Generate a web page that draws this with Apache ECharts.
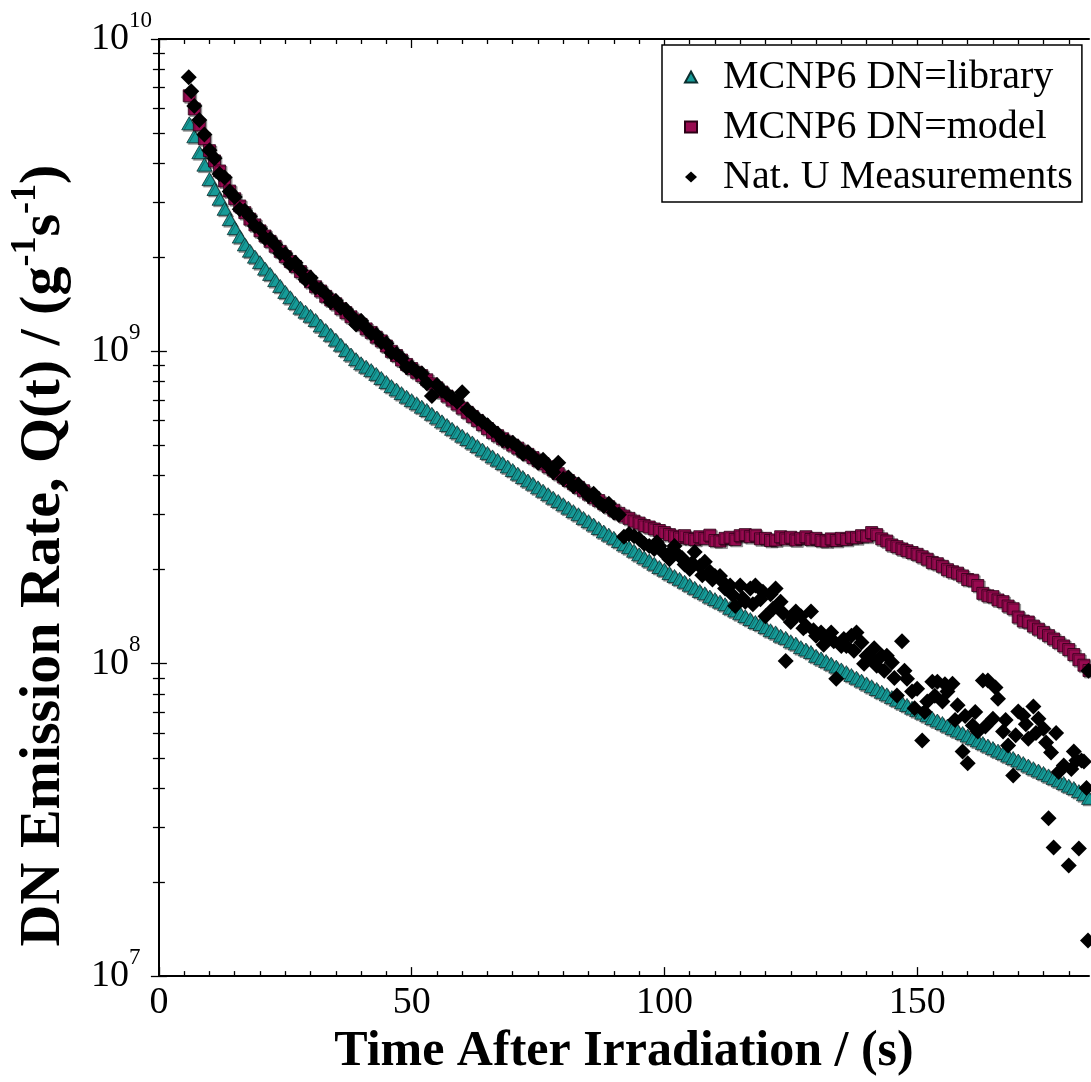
<!DOCTYPE html>
<html>
<head>
<meta charset="utf-8">
<script src="https://cdn.jsdelivr.net/npm/echarts@6/dist/echarts.min.js"></script>
<style>
  html, body { margin: 0; padding: 0; background: #fff; }
  #chart { width: 1091px; height: 1082px; }
</style>
</head>
<body>
<div id="chart"></div>
<script>
// simulated series share one time grid (s)
const simTimes = [6,7,8,9,10,11,12,13,14,15,16,17,18,19,20,21,22,23,24,25,26,27,28,29,30,
  31,32,33,34,35,36,37,38,39,40,41,42,43,44,45,46,47,48,49,50,51,52,53,54,55,56,57,58,59,60,
  61,62,63,64,65,66,67,68,69,70,71,72,73,74,75,76,77,78,79,80,81,82,83,84,85,86,87,88,89,90,
  91,92,93,94,95,96,97,98,99,100,101,102,103,104,105,106,107,108,109,110,111,112,113,114,115,
  116,117,118,119,120,121,122,123,124,125,126,127,128,129,130,131,132,133,134,135,136,137,138,
  139,140,141,142,143,144,145,146,147,148,149,150,151,152,153,154,155,156,157,158,159,160,161,
  162,163,164,165,166,167,168,169,170,171,172,173,174,175,176,177,178,179,180,181,182,183,184];

// MCNP6 DN=library
const libraryValues = [
  5.37e9,4.88e9,4.34e9,3.96e9,3.56e9,3.31e9,3.08e9,2.86e9,2.65e9,2.48e9,
  2.33e9,2.20e9,2.10e9,2.01e9,1.93e9,1.84e9,1.77e9,1.69e9,1.62e9,1.55e9,
  1.49e9,1.43e9,1.38e9,1.34e9,1.30e9,1.26e9,1.21e9,1.17e9,1.13e9,1.09e9,
  1.05e9,1.01e9,9.77e8,9.44e8,9.16e8,8.93e8,8.71e8,8.47e8,8.22e8,7.98e8,
  7.74e8,7.55e8,7.35e8,7.16e8,6.98e8,6.82e8,6.65e8,6.49e8,6.31e8,6.14e8,
  5.97e8,5.81e8,5.65e8,5.51e8,5.37e8,5.24e8,5.11e8,4.98e8,4.85e8,4.73e8,
  4.61e8,4.50e8,4.39e8,4.28e8,4.17e8,4.06e8,3.96e8,3.86e8,3.77e8,3.67e8,
  3.58e8,3.49e8,3.40e8,3.32e8,3.24e8,3.16e8,3.08e8,3.01e8,2.93e8,2.86e8,
  2.79e8,2.72e8,2.65e8,2.59e8,2.53e8,2.47e8,2.41e8,2.36e8,2.30e8,2.24e8,
  2.19e8,2.14e8,2.09e8,2.04e8,2.00e8,1.95e8,1.91e8,1.87e8,1.83e8,1.79e8,
  1.75e8,1.71e8,1.68e8,1.64e8,1.61e8,1.58e8,1.55e8,1.51e8,1.48e8,1.45e8,
  1.42e8,1.39e8,1.36e8,1.34e8,1.31e8,1.28e8,1.26e8,1.23e8,1.21e8,1.18e8,
  1.16e8,1.13e8,1.11e8,1.09e8,1.06e8,1.04e8,1.02e8,1.00e8,9.79e7,9.59e7,
  9.40e7,9.20e7,9.02e7,8.83e7,8.65e7,8.47e7,8.30e7,8.13e7,7.98e7,7.82e7,
  7.67e7,7.52e7,7.38e7,7.23e7,7.10e7,6.97e7,6.84e7,6.70e7,6.58e7,6.46e7,
  6.34e7,6.22e7,6.11e7,6.00e7,5.89e7,5.78e7,5.68e7,5.57e7,5.47e7,5.37e7,
  5.27e7,5.18e7,5.08e7,4.99e7,4.90e7,4.81e7,4.72e7,4.63e7,4.55e7,4.47e7,
  4.39e7,4.31e7,4.23e7,4.15e7,4.07e7,4.00e7,3.91e7,3.82e7,3.72e7];

// MCNP6 DN=model
const modelValues = [
  6.58e9,5.97e9,5.31e9,4.79e9,4.39e9,4.07e9,3.78e9,3.51e9,3.26e9,3.08e9,
  2.92e9,2.78e9,2.65e9,2.54e9,2.43e9,2.34e9,2.25e9,2.17e9,2.09e9,2.01e9,
  1.94e9,1.87e9,1.80e9,1.74e9,1.67e9,1.61e9,1.56e9,1.50e9,1.46e9,1.42e9,
  1.37e9,1.33e9,1.29e9,1.26e9,1.22e9,1.18e9,1.15e9,1.11e9,1.08e9,1.04e9,
  1.00e9,9.70e8,9.38e8,9.08e8,8.81e8,8.57e8,8.36e8,8.11e8,7.87e8,7.64e8,
  7.41e8,7.19e8,6.98e8,6.78e8,6.58e8,6.38e8,6.19e8,6.01e8,5.83e8,5.66e8,
  5.50e8,5.37e8,5.25e8,5.13e8,5.01e8,4.90e8,4.79e8,4.68e8,4.57e8,4.47e8,
  4.37e8,4.27e8,4.17e8,4.06e8,3.96e8,3.86e8,3.77e8,3.67e8,3.58e8,3.49e8,
  3.40e8,3.33e8,3.25e8,3.18e8,3.10e8,3.03e8,2.97e8,2.92e8,2.86e8,2.82e8,
  2.77e8,2.74e8,2.70e8,2.67e8,2.63e8,2.59e8,2.56e8,2.53e8,2.57e8,2.52e8,
  2.50e8,2.55e8,2.52e8,2.58e8,2.48e8,2.47e8,2.52e8,2.54e8,2.50e8,2.57e8,
  2.59e8,2.55e8,2.58e8,2.51e8,2.52e8,2.48e8,2.49e8,2.55e8,2.51e8,2.54e8,
  2.49e8,2.52e8,2.55e8,2.50e8,2.52e8,2.48e8,2.47e8,2.51e8,2.48e8,2.52e8,
  2.50e8,2.54e8,2.53e8,2.57e8,2.56e8,2.63e8,2.59e8,2.51e8,2.47e8,2.40e8,
  2.37e8,2.33e8,2.30e8,2.27e8,2.24e8,2.20e8,2.16e8,2.11e8,2.09e8,2.05e8,
  2.00e8,1.97e8,1.95e8,1.91e8,1.86e8,1.85e8,1.78e8,1.68e8,1.65e8,1.64e8,
  1.60e8,1.58e8,1.53e8,1.50e8,1.41e8,1.37e8,1.36e8,1.32e8,1.29e8,1.26e8,
  1.23e8,1.20e8,1.17e8,1.14e8,1.11e8,1.07e8,1.03e8,9.89e7,9.51e7];

// Nat. U measurements
const measTimes = [5.9,6.4,7,8,9,10,11,12,13,14,15,16,17,18,19,20,21,22,23,24,25,26,27,28,29,30,
  31,32,33,34,35,36,37,38,39,40,41,42,43,44,45,46,47,48,49,50,51,52,53,54,55,56,57,58,59,60,
  61,62,63,64,65,66,67,68,69,70,71,72,73,74,75,76,77,78,79,80,81,82,83,84,85,86,87,88,89,90,91,
  92,93,94,95,96,97,98,98.5,99,100,101,101.5,102,103,103.5,104,105,105.5,106,107,107.5,108,109,109.5,
  110,111,111.5,112,113,113.5,114,115,115.5,116,117,117.5,118,119,119.5,120,121,121.5,122,123,123.5,
  124,125,125.5,126,127,127.5,128,129,129.5,130,131,131.5,132,133,133.5,134,135,135.5,136,137,137.5,
  138,139,139.5,140,141,141.5,142,143,143.5,144,145,145.5,146,147,147.5,148,149,149.5,150,151,151.5,
  152,153,153.5,154,155,155.5,156,157,157.5,158,159,159.5,160,161,161.5,162,163,163.5,164,165,165.5,
  166,167,167.5,168,169,169.5,170,171,171.5,172,173,173.5,174,175,175.5,176,176.5,177,177.5,178,179,
  180,180.5,181,181.5,182,182.5,183,183.5,183.8,183.9];
const measValues = [7.55e9,6.8e9,6.1e9,5.5e9,4.95e9,4.4e9,4.15e9,3.7e9,3.6e9,3.25e9,3.12e9,2.85e9,
  2.82e9,2.7e9,2.52e9,2.47e9,2.3e9,2.29e9,2.2e9,2.06e9,2.05e9,1.9e9,1.92e9,1.82e9,1.7e9,1.72e9,
  1.6e9,1.58e9,1.53e9,1.44e9,1.45e9,1.38e9,1.36e9,1.3e9,1.22e9,1.25e9,1.19e9,1.14e9,1.13e9,1.07e9,
  1.06e9,9.9e8,9.8e8,9.5e8,8.9e8,8.9e8,8.6e8,8.5e8,7.9e8,7.2e8,7.8e8,7.5e8,7.3e8,7.1e8,6.9e8,7.4e8,
  6.5e8,6.3e8,6.1e8,5.95e8,5.8e8,5.6e8,5.45e8,5.2e8,5.15e8,5.1e8,4.95e8,4.7e8,4.75e8,4.6e8,4.4e8,
  4.5e8,4.3e8,4.1e8,4.4e8,3.9e8,3.95e8,3.7e8,3.75e8,3.6e8,3.45e8,3.5e8,3.3e8,3.2e8,3.25e8,3.05e8,3.0e8,
  2.55e8,2.60e8,2.56e8,2.51e8,2.42e8,2.38e8,2.33e8,2.45e8,2.38e8,2.25e8,2.16e8,2.3e8,2.38e8,2.21e8,2.18e8,
  2.08e8,2.01e8,2.1e8,2.28e8,2.05e8,1.92e8,2.12e8,1.97e8,1.86e8,
  1.91e8,1.91e8,1.83e8,1.74e8,1.78e8,1.66e8,1.53e8,1.78e8,1.62e8,1.58e8,1.74e8,1.55e8,1.78e8,1.61e8,1.7e8,
  1.42e8,1.67e8,1.5e8,1.74e8,1.58e8,1.45e8,
  1.02e8,1.36e8,1.4e8,1.47e8,1.42e8,1.3e8,1.32e8,1.47e8,1.28e8,1.23e8,1.26e8,1.15e8,1.20e8,1.26e8,1.18e8,
  8.95e7,1.14e8,1.2e8,1.14e8,1.23e8,1.1e8,
  1.26e8,1.17e8,1.0e8,1.06e8,1.04e8,1.12e8,9.86e7,1.06e8,9.5e7,1.06e8,1.01e8,9.0e7,7.91e7,1.18e8,9.5e7,
  8.95e7,8.15e7,7.2e7,8.32e7,5.68e7,7.0e7,
  7.57e7,8.75e7,7.9e7,8.75e7,7.57e7,8.6e7,8.15e7,8.63e7,6.6e7,7.36e7,5.24e7,6.8e7,4.80e7,6.34e7,7.0e7,
  6.07e7,8.83e7,6.3e7,8.83e7,6.67e7,8.4e7,
  7.73e7,6.07e7,6.6e7,5.47e7,4.39e7,5.9e7,7.03e7,6.83e7,6.4e7,5.75e7,7.30e7,6.0e7,6.67e7,6.19e7,5.6e7,
  3.20e7,5.2e7,2.58e7,6.0e7,4.5e7,4.72e7,
  2.26e7,4.6e7,5.24e7,4.9e7,2.56e7,4.9e7,4.86e7,4.0e7,1.30e7,9.5e7];

// axis ticks
const xMajorTicks = [0, 50, 100, 150];
const xMinorTicks = [5,10,15,20,25,30,35,40,45,55,60,65,70,75,80,85,90,95,105,110,115,120,125,130,
  135,140,145,155,160,165,170,175,180];
const yMajorTicks = [1e7, 1e8, 1e9, 1e10];
const yMinorTicks = [2e7,3e7,4e7,5e7,6e7,7e7,8e7,9e7,2e8,3e8,4e8,5e8,6e8,7e8,8e8,9e8,
  2e9,3e9,4e9,5e9,6e9,7e9,8e9,9e9];

const pairs = (xs, ys) => xs.map((x, i) => [x, ys[i]]);

const serif = "Liberation Serif";
const teal = '#169b98';
const plum = '#980a50';
const lineStyle = { color: '#000', width: 2 };

function xAxisFor(position, ticks, len, withLine, withLabels) {
  return {
    type: 'value', position: position, min: 0, max: 184,
    axisLine: { show: withLine, lineStyle: lineStyle },
    axisTick: { show: true, inside: true, length: len, customValues: ticks,
      lineStyle: { color: '#000', width: 1.3 } },
    axisLabel: withLabels ? {
      show: true, customValues: xMajorTicks, margin: 8,
      fontFamily: serif, fontSize: 38, color: '#000'
    } : { show: false },
    splitLine: { show: false }
  };
}

function yAxisFor(position, ticks, len, withLine, withLabels) {
  return {
    type: 'log', logBase: 10, position: position, min: 1e7, max: 1e10,
    axisLine: { show: withLine, lineStyle: lineStyle },
    axisTick: { show: true, inside: true, length: len, customValues: ticks,
      lineStyle: { color: '#000', width: 1.3 } },
    axisLabel: withLabels ? {
      show: true, customValues: yMajorTicks, margin: 68, align: 'left',
      formatter: v => '{b|10}{s|' + Math.round(Math.log10(v)) + '}',
      rich: {
        b: { fontFamily: serif, fontSize: 38, lineHeight: 60, color: '#000' },
        s: { fontFamily: serif, fontSize: 23, lineHeight: 23, verticalAlign: 'top', color: '#000' }
      }
    } : { show: false },
    splitLine: { show: false }
  };
}

const chart = echarts.init(document.getElementById('chart'), null, { renderer: 'canvas' });

const xAxes = [
  xAxisFor('bottom', xMajorTicks, 9, true, true),
  xAxisFor('bottom', xMinorTicks, 5, false, false),
  xAxisFor('top', xMajorTicks, 9, true, false),
  xAxisFor('top', xMinorTicks, 5, false, false)
];
xAxes[0].name = 'Time After Irradiation / (s)';
xAxes[0].nameLocation = 'middle';
xAxes[0].nameGap = 43;
xAxes[0].nameTextStyle = { fontFamily: serif, fontSize: 50, fontWeight: 'bold', color: '#000' };

const yAxes = [
  yAxisFor('left', yMajorTicks, 8, true, true),
  yAxisFor('left', yMinorTicks, 6, false, false),
  yAxisFor('right', yMajorTicks, 8, true, false),
  yAxisFor('right', yMinorTicks, 6, false, false)
];
yAxes[0].name = 'DN Emission Rate, Q(t) / (g{sup|-1}s{sup|-1})';
yAxes[0].nameLocation = 'middle';
yAxes[0].nameGap = 57;
yAxes[0].nameTextStyle = {
  fontFamily: serif, fontSize: 58, fontWeight: 'bold', color: '#000', lineHeight: 72,
  padding: [0, 96, 0, 0],
  rich: {
    sup: { fontFamily: serif, fontSize: 36, fontWeight: 'bold', lineHeight: 36,
      verticalAlign: 'top', color: '#000' }
  }
};

const markShadow = { shadowColor: 'rgba(0,0,0,0.35)', shadowOffsetX: 1.5, shadowOffsetY: 1.5, shadowBlur: 0 };

chart.setOption({
  animation: false,
  backgroundColor: '#fff',
  textStyle: { fontFamily: serif },
  grid: { left: 153, right: 2, top: 39, bottom: 103, containLabel: false },
  xAxis: xAxes,
  yAxis: yAxes,
  legend: {
    left: 662, top: 45, orient: 'vertical',
    selectedMode: false,
    backgroundColor: '#fff', borderColor: '#000', borderWidth: 1.5,
    padding: [12, 9, 5, 22],
    itemGap: 10, itemWidth: 12, itemHeight: 11,
    formatter: name => '{t|' + name + '}',
    textStyle: {
      fontFamily: serif, fontSize: 40, color: '#000',
      rich: { t: { fontFamily: serif, fontSize: 40, lineHeight: 40, color: '#000', padding: [0, 0, 0, 21] } }
    },
    data: ['MCNP6 DN=library', 'MCNP6 DN=model', 'Nat. U Measurements']
  },
  series: [
    {
      name: 'MCNP6 DN=library', type: 'scatter',
      symbol: 'triangle', symbolSize: [15, 13],
      itemStyle: Object.assign({ color: teal, opacity: 1, borderColor: '#0b2e2e', borderWidth: 0.8 }, markShadow),
      data: pairs(simTimes, libraryValues)
    },
    {
      name: 'MCNP6 DN=model', type: 'scatter',
      symbol: 'rect', symbolSize: 12,
      itemStyle: Object.assign({ color: plum, opacity: 1, borderColor: '#2a0015', borderWidth: 0.8 }, markShadow),
      data: pairs(simTimes, modelValues)
    },
    {
      name: 'Nat. U Measurements', type: 'scatter',
      symbol: 'diamond', symbolSize: 16,
      itemStyle: { color: '#000', opacity: 1 },
      data: pairs(measTimes, measValues)
    }
  ]
});
</script>
</body>
</html>
